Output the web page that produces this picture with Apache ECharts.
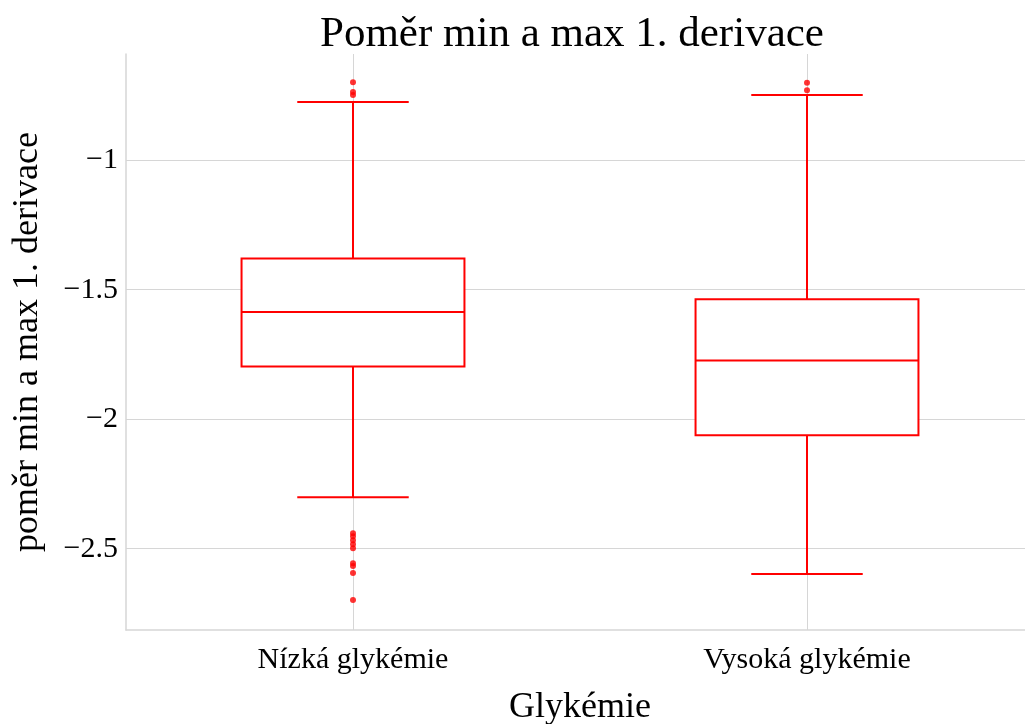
<!DOCTYPE html>
<html>
<head>
<meta charset="utf-8">
<script src="https://cdn.jsdelivr.net/npm/echarts@6/dist/echarts.min.js"></script>
<style>
html, body { margin: 0; padding: 0; background: #fff; }
#chart { width: 1025px; height: 724px; }
</style>
</head>
<body>
<div id="chart"></div>
<script>
// kategorie a souhrnné hodnoty boxplotu
const categories = ['Nízká glykémie', 'Vysoká glykémie'];
const whiskerLow = [-2.301, -2.598];
const q1 = [-1.797, -2.062];
const median = [-1.586, -1.773];
const q3 = [-1.380, -1.537];
const whiskerHigh = [-0.775, -0.748];
// odlehlé hodnoty
const outliersLow = [-0.699, -0.737, -0.748, -2.440, -2.452, -2.467, -2.483, -2.498, -2.556, -2.567, -2.594, -2.698];
const outliersHigh = [-0.701, -0.730];
const yTicks = [-2.5, -2, -1.5, -1];

const FONT = '"Liberation Serif", "Times New Roman", serif';
const RED = '#ff0000';

const boxData = categories.map((c, i) => [i, whiskerLow[i], q1[i], median[i], q3[i], whiskerHigh[i]]);
const outlierData = [
    ...outliersLow.map(v => [0, v]),
    ...outliersHigh.map(v => [1, v]),
];

const renderBox = (params, api) => {
    const idx = api.value(0);
    const pMin = api.coord([idx, api.value(1)]);
    const pQ1 = api.coord([idx, api.value(2)]);
    const pMed = api.coord([idx, api.value(3)]);
    const pQ3 = api.coord([idx, api.value(4)]);
    const pMax = api.coord([idx, api.value(5)]);
    const band = api.size([1, 0])[0];
    const hb = band * 0.2455; // pul sirky boxu
    const hc = hb / 2; // pul sirky zakonceni
    const x = pMed[0];
    const st = { stroke: RED, lineWidth: 2, fill: null };
    return {
        type: 'group',
        children: [
            { type: 'line', shape: { x1: x, y1: pMin[1], x2: x, y2: pQ1[1] }, style: st },
            { type: 'line', shape: { x1: x, y1: pQ3[1], x2: x, y2: pMax[1] }, style: st },
            { type: 'line', shape: { x1: x - hc, y1: pMin[1], x2: x + hc, y2: pMin[1] }, style: st },
            { type: 'line', shape: { x1: x - hc, y1: pMax[1], x2: x + hc, y2: pMax[1] }, style: st },
            {
                type: 'rect',
                shape: { x: x - hb, y: pQ3[1], width: hb * 2, height: pQ1[1] - pQ3[1] },
                style: { stroke: RED, lineWidth: 2, fill: '#fff' },
            },
            { type: 'line', shape: { x1: x - hb, y1: pMed[1], x2: x + hb, y2: pMed[1] }, style: st },
        ],
    };
};

const chart = echarts.init(document.getElementById('chart'));
chart.setOption({
    animation: false,
    title: {
        text: 'Poměr min a max 1. derivace',
        left: 320,
        top: 13,
        padding: 0,
        textStyle: { fontFamily: FONT, fontSize: 43, fontWeight: 'normal', color: '#000' },
    },
    grid: {
        left: 126,
        right: -9,
        top: 54,
        bottom: 94,
        containLabel: false,
        outerBoundsMode: 'none',
    },
    xAxis: {
        type: 'category',
        data: categories,
        boundaryGap: true,
        name: 'Glykémie',
        nameLocation: 'middle',
        nameGap: 60,
        nameTextStyle: { fontFamily: FONT, fontSize: 36, color: '#000' },
        axisLine: { show: true, lineStyle: { color: '#d6d6d6', width: 1.5 } },
        axisTick: { show: false, alignWithLabel: true },
        axisLabel: { fontFamily: FONT, fontSize: 30, color: '#000', margin: 15 },
        splitLine: { show: true, alignWithLabel: true, lineStyle: { color: '#d6d6d6', width: 1 } },
    },
    yAxis: {
        type: 'value',
        min: -2.814,
        max: -0.59,
        name: 'poměr min a max 1. derivace',
        nameLocation: 'middle',
        nameGap: 80,
        nameTextStyle: { fontFamily: FONT, fontSize: 36, color: '#000' },
        axisLine: { show: true, lineStyle: { color: '#d6d6d6', width: 1.5 } },
        axisTick: { show: false, customValues: yTicks },
        axisLabel: {
            fontFamily: FONT,
            fontSize: 30,
            color: '#000',
            margin: 8,
            customValues: yTicks,
            formatter: v => String(v).replace('-', '\u2212'),
        },
        splitLine: { show: true, lineStyle: { color: '#d6d6d6', width: 1 } },
    },
    series: [
        {
            type: 'custom',
            renderItem: renderBox,
            encode: { x: 0, y: [1, 2, 3, 4, 5] },
            data: boxData,
            z: 2,
        },
        {
            type: 'scatter',
            data: outlierData,
            symbol: 'circle',
            symbolSize: 6,
            itemStyle: { color: RED },
            z: 3,
        },
    ],
});
</script>
</body>
</html>
